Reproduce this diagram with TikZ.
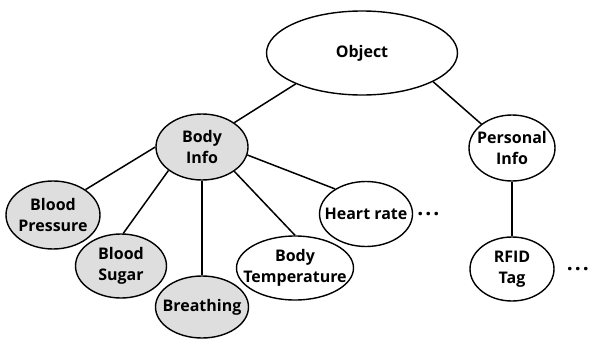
\documentclass[tikz,border=0pt]{standalone}
\usepackage{fontspec}
\setmainfont{Open Sans}
\usetikzlibrary{shapes.geometric, positioning}

\begin{document}
\begin{tikzpicture}[x=1pt, y=-1pt,
        oval/.style 2 args={ellipse, draw, line width=1.4pt, fill=white,
            minimum width=#1, minimum height=#2, inner sep=0pt},
        grain/.style={fill=black!13},
        txt/.style={align=center, inner sep=0pt,
            font=\fontsize{16}{21}\selectfont\bfseries},
        more/.style={inner sep=0pt, font=\fontsize{21}{21}\selectfont\bfseries},
        link/.style={line width=1.5pt}]
    \useasboundingbox (0,0) rectangle (593,340);

    \node[oval={191pt}{84pt}, label={[txt]center:Object}] (object) at (362,53) {};
    \node[oval={92pt}{66pt}, grain, label={[txt]center:Body\\Info}] (body) at (202,147) {};
    \node[oval={86pt}{66pt}, label={[txt]center:Personal\\Info}] (personal) at (512,148) {};
    \node[oval={94pt}{68pt}, grain, label={[txt]center:Blood\\Pressure}] (pressure) at (53,215) {};
    \node[oval={91pt}{64pt}, grain, label={[txt]center:Blood\\Sugar}] (sugar) at (121,266) {};
    \node[oval={93pt}{62pt}, grain, label={[txt]center:Breathing}] (breathing) at (202,307) {};
    \node[oval={117pt}{64pt}, label={[txt]center:Body\\Temperature}] (temperature) at (295,268) {};
    \node[oval={93pt}{65pt}, label={[txt]center:Heart rate}] (heart) at (366,214) {};
    \node[oval={84pt}{64pt}, label={[txt]center:RFID\\Tag}] (rfid) at (512,269) {};

    \node[more, right=4pt of heart] (heartmore) {.\hspace{2pt}.\hspace{2pt}.};
    \node[more, right=12pt of rfid] (rfidmore) {.\hspace{2pt}.\hspace{2pt}.};

    \draw[link] (object.205) -- (body.37);
    \draw[link] (object.-22) -- (personal.142);
    \draw[link] (personal.270) -- (rfid.90);
    \draw[link] (body.180) -- (pressure.38);
    \draw[link] (body.215) -- (sugar.86);
    \draw[link] (body.270) -- (breathing.90);
    \draw[link] (body.-37) -- (temperature.90);
    \draw[link] (body.-10) -- (heart.141);
\end{tikzpicture}
\end{document}
